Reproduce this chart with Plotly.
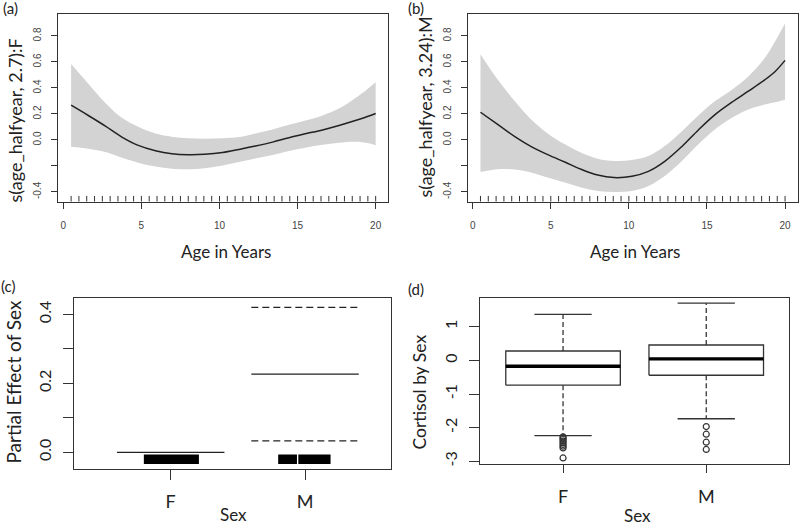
import plotly.graph_objects as go

# ---------------- data ----------------
AGE = [0.5, 1.6, 2.7, 3.75, 4.8, 5.9, 6.95, 8.0, 9.05, 10.2, 11.25, 12.3,
       13.4, 14.45, 15.5, 16.6, 17.65, 18.7, 19.35, 20.0]

F_FIT = [0.267, 0.188, 0.106, 0.022, -0.042, -0.083, -0.106, -0.114, -0.111, -0.097,
         -0.073, -0.047, -0.017, 0.017, 0.047, 0.077, 0.111, 0.149, 0.175, 0.203]
F_UPPER = [0.584, 0.433, 0.285, 0.170, 0.101, 0.050, 0.025, 0.012, 0.009, 0.012,
           0.022, 0.050, 0.080, 0.116, 0.149, 0.188, 0.241, 0.323, 0.379, 0.443]
F_LOWER = [-0.052, -0.067, -0.093, -0.137, -0.175, -0.205, -0.221, -0.226, -0.218, -0.197,
           -0.170, -0.142, -0.116, -0.086, -0.060, -0.038, -0.022, -0.014, -0.022, -0.040]

M_FIT = [0.213, 0.119, 0.025, -0.052, -0.113, -0.170, -0.226, -0.270, -0.290, -0.280,
         -0.242, -0.165, -0.050, 0.077, 0.193, 0.290, 0.375, 0.462, 0.525, 0.612]
M_UPPER = [0.660, 0.464, 0.297, 0.157, 0.050, -0.034, -0.098, -0.144, -0.162, -0.155,
           -0.124, -0.047, 0.067, 0.188, 0.297, 0.387, 0.489, 0.630, 0.755, 0.898]
M_LOWER = [-0.247, -0.226, -0.228, -0.251, -0.290, -0.328, -0.366, -0.392, -0.400, -0.392,
           -0.354, -0.277, -0.162, -0.034, 0.080, 0.170, 0.234, 0.272, 0.290, 0.310]

RUG_AGE = [0.5, 1.0, 1.5, 2.0, 2.5, 3.0, 3.5, 4.0, 4.5, 5.0, 5.5, 6.0, 6.5, 7.0,
           7.5, 8.0, 8.5, 9.0, 9.5, 10.0, 10.5, 11.0, 11.5, 12.0, 12.5, 13.0, 13.5,
           14.0, 14.5, 15.0, 15.5, 16.0, 16.5, 17.0, 17.5, 18.0, 18.5, 19.0, 19.5, 20.0]

SEX = ["F", "M"]
SEX_EFFECT = [0.0, 0.227]
SEX_CI_UPPER = [None, 0.420]
SEX_CI_LOWER = [None, 0.033]
RUG_SEX_FROM = [0.80, 1.80, 1.95]
RUG_SEX_TO = [1.21, 1.94, 2.19]

CORT_Q1 = [-0.736, -0.440]
CORT_MEDIAN = [-0.172, 0.045]
CORT_Q3 = [0.282, 0.460]
CORT_WHISK_LO = [-2.236, -1.733]
CORT_WHISK_HI = [1.368, 1.704]
CORT_OUT_F = [-2.27, -2.31, -2.35, -2.40, -2.45, -2.50, -2.55, -2.60, -2.90]
CORT_OUT_M = [-1.966, -2.193, -2.43, -2.647]

# ---------------- style ----------------
W, H = 800, 526
BAND = "#d3d3d3"
INK = "#222222"
FRAME = "#333333"
TXT_FONT = "Lato, 'Open Sans', sans-serif"
TICK_FONT_SMALL = "'Liberation Sans', Arial, sans-serif"


def dx(p0, p1):
    return [p0 / W, p1 / W]


def dy(top, bottom):
    return [1 - bottom / H, 1 - top / H]


fig = go.Figure()

# ---------- panels (a) and (b) ----------
for ax, fit, up, lo in [("", F_FIT, F_UPPER, F_LOWER), ("2", M_FIT, M_UPPER, M_LOWER)]:
    xa, ya = "x" + ax, "y" + ax
    fig.add_trace(go.Scatter(x=AGE, y=lo, mode="lines", line=dict(width=0, shape="spline"),
                             xaxis=xa, yaxis=ya, showlegend=False, hoverinfo="skip"))
    fig.add_trace(go.Scatter(x=AGE, y=up, mode="lines", line=dict(width=0, shape="spline"),
                             fill="tonexty", fillcolor=BAND,
                             xaxis=xa, yaxis=ya, showlegend=False, hoverinfo="skip"))
    fig.add_trace(go.Scatter(x=AGE, y=fit, mode="lines",
                             line=dict(color=INK, width=1.5, shape="spline"),
                             xaxis=xa, yaxis=ya, showlegend=False))
    for a in RUG_AGE:
        fig.add_shape(type="line", xref=xa, yref=ya + " domain", x0=a, x1=a, y0=0, y1=0.03,
                      line=dict(color=FRAME, width=1))

# ---------- panel (c) ----------
for i, s in enumerate(SEX):
    xc = i + 1
    fig.add_trace(go.Scatter(x=[xc - 0.4, xc + 0.4], y=[SEX_EFFECT[i]] * 2, mode="lines",
                             line=dict(color=INK, width=1.3), xaxis="x3", yaxis="y3",
                             showlegend=False))
    for ci in (SEX_CI_UPPER[i], SEX_CI_LOWER[i]):
        if ci is not None:
            fig.add_trace(go.Scatter(x=[xc - 0.4, xc + 0.4], y=[ci] * 2, mode="lines",
                                     line=dict(color=INK, width=1.3, dash="7px,4px"),
                                     xaxis="x3", yaxis="y3", showlegend=False))
for a, b in zip(RUG_SEX_FROM, RUG_SEX_TO):
    fig.add_shape(type="rect", xref="x3", yref="y3", x0=a, x1=b, y0=-0.034, y1=-0.006,
                  fillcolor="black", line=dict(width=0))

# ---------- panel (d) ----------
for i, s in enumerate(SEX):
    xc = i + 1
    q1, md, q3 = CORT_Q1[i], CORT_MEDIAN[i], CORT_Q3[i]
    fig.add_trace(go.Scatter(x=[xc - 0.4, xc + 0.4, xc + 0.4, xc - 0.4, xc - 0.4],
                             y=[q1, q1, q3, q3, q1], mode="lines",
                             line=dict(color=FRAME, width=1.3), xaxis="x4", yaxis="y4",
                             showlegend=False))
    fig.add_trace(go.Scatter(x=[xc - 0.4, xc + 0.4], y=[md, md], mode="lines",
                             line=dict(color="black", width=3.3), xaxis="x4", yaxis="y4",
                             showlegend=False))
    for a, b in ((q3, CORT_WHISK_HI[i]), (q1, CORT_WHISK_LO[i])):
        fig.add_trace(go.Scatter(x=[xc, xc], y=[a, b], mode="lines",
                                 line=dict(color=FRAME, width=1.3, dash="5px,3px"),
                                 xaxis="x4", yaxis="y4", showlegend=False))
        fig.add_trace(go.Scatter(x=[xc - 0.2, xc + 0.2], y=[b, b], mode="lines",
                                 line=dict(color=FRAME, width=1.3),
                                 xaxis="x4", yaxis="y4", showlegend=False))
for i, outs in enumerate([CORT_OUT_F, CORT_OUT_M]):
    fig.add_trace(go.Scatter(x=[i + 1] * len(outs), y=outs, mode="markers",
                             marker=dict(symbol="circle-open", size=6, color=FRAME,
                                         line=dict(width=1.2)),
                             xaxis="x4", yaxis="y4", showlegend=False))

# ---------- axes ----------
frame = dict(showline=True, mirror=True, linecolor=FRAME, linewidth=1.2, showgrid=False,
             zeroline=False, ticks="outside", tickcolor=FRAME, tickwidth=1.2)

small_tick = dict(family=TICK_FONT_SMALL, size=10, color="#444")
big_tick = dict(family=TXT_FONT, size=16, color=INK)

top_y = dy(14.3, 202.3)
ab_y = dict(frame, range=[-0.474, 0.967], tickvals=[-0.4, -0.2, 0, 0.2, 0.4, 0.6, 0.8],
            ticktext=["-0.4", "", "0.0", "0.2", "0.4", "0.6", "0.8"], tickangle=-90,
            ticklen=6, tickfont=small_tick, domain=top_y, ticklabelstandoff=6)
ab_x = dict(frame, tickvals=[0, 5, 10, 15, 20], ticklen=6, tickfont=small_tick,
            ticklabelstandoff=8)

fig.update_layout(
    width=W, height=H, margin=dict(l=0, r=0, t=0, b=0),
    paper_bgcolor="white", plot_bgcolor="white",
    xaxis=dict(ab_x, domain=dx(58.3, 387.7), range=[-0.32, 20.77], anchor="y"),
    yaxis=dict(ab_y, anchor="x"),
    xaxis2=dict(ab_x, domain=dx(468.3, 797.7), range=[-0.28, 20.81], anchor="y2"),
    yaxis2=dict(ab_y, anchor="x2"),
    xaxis3=dict(frame, domain=dx(74, 391), range=[0.28, 2.64], tickvals=[1, 2],
                ticktext=SEX, ticklen=10, tickfont=dict(family=TXT_FONT, size=18, color=INK),
                anchor="y3", ticklabelstandoff=6),
    yaxis3=dict(frame, domain=dy(299.3, 471), range=[-0.049, 0.447],
                tickvals=[0, 0.1, 0.2, 0.3, 0.4], ticktext=["0.0", "", "0.2", "", "0.4"],
                tickangle=-90, ticklen=10, tickfont=big_tick, anchor="x3",
                ticklabelstandoff=6),
    xaxis4=dict(frame, domain=dx(480, 789.3), range=[0.42, 2.58], tickvals=[1, 2],
                ticktext=SEX, ticklen=8, tickfont=dict(family=TXT_FONT, size=18, color=INK),
                anchor="y4", ticklabelstandoff=8),
    yaxis4=dict(frame, domain=dy(298.7, 466), range=[-3.086, 1.871],
                tickvals=[-3, -2, -1, 0, 1], ticktext=["-3", "-2", "-1", "0", "1"],
                tickangle=-90, ticklen=10, tickfont=big_tick, anchor="x4",
                ticklabelstandoff=6),
)


def ann(text, px, py, size, angle=0):
    fig.add_annotation(text=text, x=px / W, y=1 - py / H, xref="paper", yref="paper",
                       showarrow=False, xanchor="center", yanchor="middle",
                       textangle=angle, font=dict(family=TXT_FONT, size=size, color=INK))


ann("(a)", 10, 8, 15)
ann("(b)", 416, 8, 15)
ann("(c)", 8, 287, 15)
ann("(d)", 416, 290, 15)
ann("s(age_halfyear, 2.7):F", 15, 121, 18, -90)
ann("s(age_halfyear, 3.24):M", 425, 108, 18, -90)
ann("Age in Years", 226, 252, 17)
ann("Age in Years", 635, 252, 17)
ann("Partial Effect of Sex", 14, 383, 19, -90)
ann("Sex", 233, 516, 17)
ann("Cortisol by Sex", 420, 394, 17.5, -90)
ann("Sex", 637, 517, 17)

fig.write_html("out.html", post_script="document.body.style.margin='0px';",
               config={"displayModeBar": False})
